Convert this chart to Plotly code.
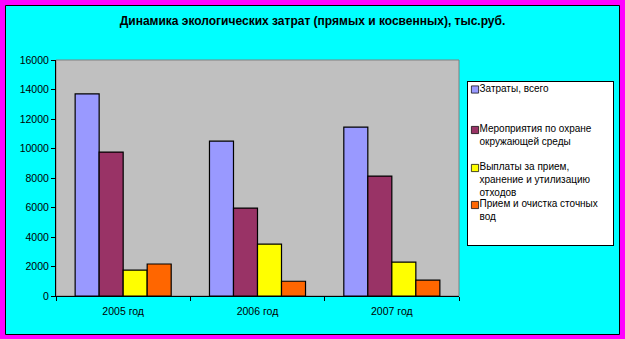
import plotly.graph_objects as go

categories = ["2005 год", "2006 год", "2007 год"]
series_names = [
    "Затраты, всего",
    "Мероприятия по охране<br>окружающей среды",
    "Выплаты за прием,<br>хранение и утилизацию<br>отходов",
    "Прием и очистка сточных<br>вод",
]
values_total = [13700, 10500, 11450]
values_measures = [9760, 5960, 8130]
values_payments = [1760, 3520, 2300]
values_wastewater = [2170, 1000, 1080]
series_values = [values_total, values_measures, values_payments, values_wastewater]
colors = ["#9999FF", "#993366", "#FFFF00", "#FF6600"]
y_ticks = [0, 2000, 4000, 6000, 8000, 10000, 12000, 14000, 16000]
title_text = "Динамика экологических затрат (прямых и косвенных), тыс.руб."

W, H = 625, 339
L, R, T, B = 56, 459, 60, 296  # plot area in px

def px_x(p):
    return (p - L) / (R - L)

def px_y(p):
    return (B - p) / (B - T)

fig = go.Figure()
for name, vals, col in zip(series_names, series_values, colors):
    fig.add_trace(go.Bar(
        x=categories, y=vals, name=name,
        marker=dict(color=col, line=dict(color="black", width=1.2)),
    ))

font_family = "Liberation Sans, Arial, sans-serif"

fig.update_layout(
    width=W, height=H,
    margin=dict(l=L, r=W - R, t=T, b=H - B, autoexpand=False),
    paper_bgcolor="#FF00FF",
    plot_bgcolor="rgba(0,0,0,0)",
    barmode="group",
    bargap=0.285,
    bargroupgap=0,
    font=dict(family=font_family, color="black", size=10.5),
    title=dict(text="<b>" + title_text + "</b>", xref="container", x=0.5, xanchor="center",
               yref="container", y=1 - 21 / H, yanchor="middle",
               font=dict(family=font_family, size=12, color="black")),
    showlegend=True,
    legend=dict(x=px_x(467), xanchor="left", y=px_y(81), yanchor="top",
                bgcolor="white", bordercolor="black", borderwidth=1,
                font=dict(family=font_family, size=10, color="black"),
                valign="top", traceorder="normal", itemclick=False,
                itemdoubleclick=False),
    shapes=[
        dict(type="rect", xref="paper", yref="paper", layer="below",
             x0=px_x(5.5), x1=px_x(619.5), y0=px_y(334.5), y1=px_y(5.5),
             fillcolor="#00FFFF", line=dict(color="black", width=1)),
        dict(type="rect", xref="paper", yref="paper", layer="below",
             x0=0, x1=1, y0=0, y1=1,
             fillcolor="#C0C0C0", line=dict(color="#808080", width=1)),
    ],
)
fig.update_xaxes(showgrid=False, showline=True, linecolor="black", linewidth=1,
                 ticks="outside", tickson="boundaries", ticklen=4, tickcolor="black",
                 tickfont=dict(size=10.5), zeroline=False, ticklabelstandoff=5)
fig.update_yaxes(range=[0, 16000], tickvals=y_ticks, showgrid=False, showline=True,
                 linecolor="black", linewidth=1, ticks="outside", ticklen=4,
                 tickcolor="black", tickfont=dict(size=10.5), zeroline=False,
                 tickformat="d")

# Fine placement of the legend entries (Excel-like compact legend box).
post_js = """
var gd = document.getElementById('{plot_id}');
var targets = [88.5, 129, 167, 204];
function fixLegend() {
  var leg = gd.querySelector('g.legend');
  if (!leg) return;
  leg.querySelectorAll('[clip-path]').forEach(function(e) { e.removeAttribute('clip-path'); });
  var bg = leg.querySelector('rect.bg');
  var traces = leg.querySelectorAll('g.traces');
  traces.forEach(function(t) {
    var txt = t.querySelector('text.legendtext');
    if (txt) txt.removeAttribute('transform');
    var g = t.querySelector('.legendsymbols');
    if (g) {
      g.removeAttribute('transform');
      var p = g.querySelector('path');
      if (p) p.setAttribute('transform', (p.getAttribute('transform') || '').replace(/\\s*scale\\([^)]*\\)/g, ''));
    }
  });
  var bgr = bg.getBoundingClientRect();
  var L0 = bgr.left, T0 = bgr.top;
  traces.forEach(function(t, i) {
    var tgt = targets[i];
    var txt = t.querySelector('text.legendtext');
    var g = t.querySelector('.legendsymbols');
    if (g) {
      var p = g.querySelector('path');
      if (p) {
        p.setAttribute('transform', (p.getAttribute('transform') || '') + ' scale(0.6)');
        var pr = p.getBoundingClientRect();
        g.setAttribute('transform', 'translate(' + (L0 + 7.5 - (pr.left + pr.right) / 2) + ',' + (tgt + 1 - (pr.top + pr.bottom) / 2) + ')');
      }
    }
    if (txt) {
      var tr = txt.getBoundingClientRect();
      txt.setAttribute('transform', 'translate(' + (L0 + 12 - tr.left) + ',' + (tgt - (tr.top + 6)) + ')');
    }
  });
  bg.setAttribute('width', 614 - (L0 + 0.5));
  bg.setAttribute('height', 246 - (T0 + 0.5));
}
fixLegend();
if (gd.on) gd.on('plotly_afterplot', fixLegend);
setTimeout(fixLegend, 30);
setTimeout(fixLegend, 200);
"""

fig.write_html("out.html", post_script=post_js)
